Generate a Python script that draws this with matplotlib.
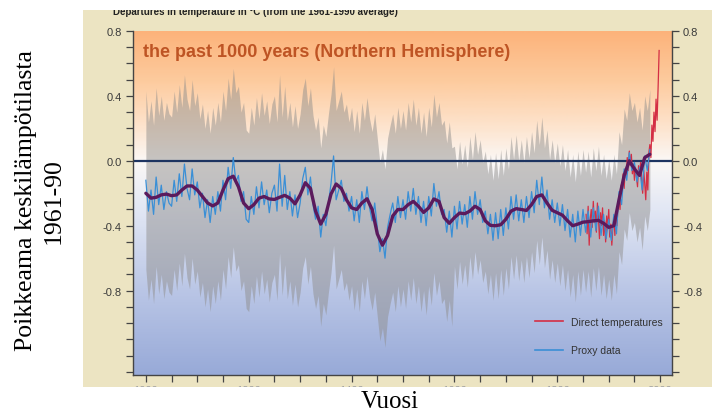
import numpy as np
import matplotlib
matplotlib.use("Agg")
import matplotlib.pyplot as plt
from matplotlib.colors import LinearSegmentedColormap
from matplotlib.patches import Rectangle
from matplotlib.lines import Line2D

# proxy data (5-year steps, 1000-1980), deg C vs 1961-90
proxy_years = np.arange(1000, 1981, 5)
proxy = [
    -0.12, -0.31, -0.18, -0.33, -0.10, -0.27, -0.15, -0.30, -0.19, -0.26,
    -0.28, -0.12, -0.25, -0.08, -0.22, -0.02, -0.17, -0.24, -0.05, -0.21,
    -0.13, -0.29, -0.20, -0.35, -0.24, -0.38, -0.22, -0.33, -0.19, -0.31,
    -0.12, -0.24, -0.04, -0.17, 0.02, -0.13, -0.09, -0.25, -0.19, -0.36,
    -0.38, -0.22, -0.33, -0.16, -0.29, -0.13, -0.27, -0.18, -0.32, -0.20,
    -0.15, -0.31, -0.02, -0.28, -0.09, -0.30, -0.19, -0.34, -0.21, -0.35,
    -0.26, -0.11, -0.04, -0.21, -0.10, -0.27, -0.36, -0.28, -0.47, -0.33,
    -0.40, -0.26, -0.14, 0.03, -0.24, -0.18, -0.12, -0.25, -0.20, -0.31,
    -0.22, -0.37, -0.24, -0.38, -0.19, -0.30, -0.16, -0.29, -0.37, -0.26,
    -0.41, -0.56, -0.48, -0.60, -0.41, -0.33, -0.26, -0.38, -0.22, -0.35,
    -0.24, -0.36, -0.19, -0.31, -0.17, -0.33, -0.22, -0.38, -0.25, -0.40,
    -0.22, -0.34, -0.14, -0.28, -0.19, -0.33, -0.30, -0.44, -0.31, -0.47,
    -0.28, -0.42, -0.25, -0.39, -0.27, -0.41, -0.22, -0.36, -0.19, -0.33,
    -0.24, -0.38, -0.31, -0.45, -0.33, -0.49, -0.32, -0.48, -0.30, -0.46,
    -0.29, -0.42, -0.22, -0.36, -0.21, -0.37, -0.24, -0.38, -0.22, -0.35,
    -0.19, -0.32, -0.12, -0.27, -0.10, -0.29, -0.18, -0.36, -0.24, -0.38,
    -0.26, -0.40, -0.27, -0.43, -0.30, -0.47, -0.33, -0.50, -0.31, -0.46,
    -0.30, -0.44, -0.31, -0.47, -0.29, -0.43, -0.28, -0.46, -0.33, -0.48,
    -0.36, -0.49, -0.33, -0.45, -0.19, -0.27, -0.05, -0.12, 0.05, -0.06,
    -0.01, -0.13, -0.04, -0.18, 0.03, -0.06, 0.07,
]

# smoothed proxy (10-year steps, 1000-1980)
smooth_years = np.arange(1000, 1981, 10)
smooth = [
    -0.20, -0.23, -0.225, -0.21, -0.205, -0.215, -0.21, -0.18, -0.155, -0.155,
    -0.18, -0.22, -0.26, -0.278, -0.26, -0.18, -0.11, -0.095, -0.16, -0.26,
    -0.295, -0.27, -0.23, -0.22, -0.235, -0.238, -0.225, -0.213, -0.23, -0.265,
    -0.21, -0.135, -0.17, -0.31, -0.39, -0.33, -0.205, -0.143, -0.17, -0.24,
    -0.29, -0.30, -0.26, -0.234, -0.30, -0.45, -0.52, -0.46, -0.34, -0.30,
    -0.30, -0.27, -0.25, -0.28, -0.318, -0.29, -0.235, -0.25, -0.35, -0.385,
    -0.35, -0.322, -0.326, -0.31, -0.28, -0.30, -0.37, -0.398, -0.40, -0.394,
    -0.36, -0.31, -0.295, -0.30, -0.306, -0.27, -0.22, -0.21, -0.26, -0.305,
    -0.32, -0.335, -0.37, -0.40, -0.39, -0.378, -0.375, -0.37, -0.367, -0.385,
    -0.41, -0.40, -0.24, -0.09, 0.0, -0.05, -0.09, 0.02, 0.04,
]

# instrumental record (2-year steps, 1856-1998)
direct_years = np.arange(1856, 1999, 2)
direct = [
    -0.33, -0.45, -0.28, -0.52, -0.36, -0.30, -0.41, -0.25, -0.38, -0.31,
    -0.44, -0.26, -0.35, -0.48, -0.32, -0.40, -0.29, -0.46, -0.37, -0.50,
    -0.34, -0.42, -0.30, -0.47, -0.39, -0.52, -0.41, -0.35, -0.46, -0.33,
    -0.40, -0.28, -0.22, -0.30, -0.15, -0.20, -0.08, -0.17, -0.05, -0.10,
    0.02, -0.06, 0.06, -0.03, 0.04, -0.08, -0.02, -0.12, -0.04, -0.10,
    -0.16, -0.03, -0.09, -0.01, -0.12, -0.20, -0.06, -0.14, -0.24, -0.07,
    -0.18, 0.05, 0.10, 0.02, 0.22, 0.12, 0.30, 0.18, 0.38, 0.25,
    0.45, 0.68,
]

# half width of the uncertainty band, by period start
band_start = [1000, 1600]
band_halfwidth = [0.55, 0.37]

YMIN, YMAX = -1.32, 0.8
XMIN, XMAX = 975, 2023

fig = plt.figure(figsize=(7.12, 4.14), dpi=100)
fig.patch.set_facecolor("white")

# beige panel behind the chart
fig.add_artist(Rectangle((0.1166, 0.0628), 0.8834, 0.9106, transform=fig.transFigure,
                         facecolor="#ece4c2", edgecolor="none", zorder=-2))

ax = fig.add_axes([0.1868, 0.0918, 0.757, 0.8309])
ax.set_xlim(XMIN, XMAX)
ax.set_ylim(YMIN, YMAX)

# orange -> white -> blue background
stops = [(-1.32, "#98aad8"), (-0.8, "#bac6e6"), (-0.3, "#e2e7f4"), (0.0, "#fbf8f6"),
         (0.2, "#fde5d0"), (0.5, "#fdcb9e"), (0.8, "#fcb37b")]
cmap = LinearSegmentedColormap.from_list(
    "bg", [((v - YMIN) / (YMAX - YMIN), c) for v, c in stops])
grad = np.linspace(0, 1, 300).reshape(-1, 1)
ax.imshow(grad, extent=[XMIN, XMAX, YMIN, YMAX], origin="lower", aspect="auto",
          cmap=cmap, vmin=0, vmax=1, zorder=0)

proxy_arr = np.array(proxy)
hw = np.array(band_halfwidth)[np.searchsorted(band_start, proxy_years, side="right") - 1]
ax.fill_between(proxy_years, proxy_arr - hw, proxy_arr + hw, color="#8e8c8a",
                alpha=0.48, lw=0, zorder=1)

ax.axhline(0, color="#1d3461", lw=1.6, zorder=2)
ax.plot(direct_years, direct, color="#d42e44", lw=0.9, zorder=3)
ax.plot(proxy_years, proxy, color="#3a8fd6", lw=0.9, zorder=4)
ax.plot(smooth_years, smooth, color="#5b1a5c", lw=2.4, zorder=5,
        solid_capstyle="round")

narrow = ["Liberation Sans Narrow", "Liberation Sans", "DejaVu Sans"]

ax.text(0.018, 0.94, "the past 1000 years (Northern Hemisphere)", transform=ax.transAxes,
        fontsize=13, fontweight="bold", color="#be5424", family=narrow,
        ha="left", va="center", zorder=6)

handles = [Line2D([], [], color="#d42e44", lw=1.2),
           Line2D([], [], color="#3a8fd6", lw=1.2)]
leg = ax.legend(handles, ["Direct temperatures", "Proxy data"], loc="lower right",
                bbox_to_anchor=(1.0, 0.03), frameon=False, handlelength=2.6,
                handletextpad=0.8, labelspacing=1.75,
                prop={"family": narrow, "size": 7.5})
for t in leg.get_texts():
    t.set_color("#333333")

ax.set_yticks([-0.8, -0.4, 0.0, 0.4, 0.8])
ax.set_yticklabels(["-0.8", "-0.4", "0.0", "0.4", "0.8"])
ax.set_yticks(np.arange(-1.3, 0.81, 0.1), minor=True)
ax.set_xticks([1000, 1200, 1400, 1600, 1800, 2000])
ax.set_xticks(np.arange(1000, 2001, 50), minor=True)
ax.tick_params(axis="y", which="both", direction="out", length=5, width=0.9,
               color="#444444", left=True, right=True, labelleft=True, labelright=True,
               labelsize=8, labelcolor="#3a3a3a", pad=3)
ax.tick_params(axis="x", which="both", direction="out", length=5, width=0.9,
               color="#444444", labelsize=8, labelcolor="#a0a0a0", pad=2)
for lbl in ax.get_yticklabels() + ax.get_xticklabels():
    lbl.set_family(narrow)
ax.spines["top"].set_visible(False)
for s in ("left", "right", "bottom"):
    ax.spines[s].set_color("#444444")
    ax.spines[s].set_linewidth(1.0)

# header of the original figure, cut off at the panel top
fig.text(0.159, 1 - 15 / 414, "Departures in temperature in \u00b0C (from the 1961-1990 average)",
         fontsize=7, fontweight="bold", color="#222222", family=narrow,
         ha="left", va="baseline", zorder=1)

# white margins that crop the panel
fig.add_artist(Rectangle((0, 0.9734), 1, 0.03, transform=fig.transFigure,
                         facecolor="white", edgecolor="none", zorder=10))
fig.add_artist(Rectangle((0, 0), 1, 0.0628, transform=fig.transFigure,
                         facecolor="white", edgecolor="none", zorder=10))

fig.text(0.056, 0.515, "Poikkeama keskilämpötilasta\n1961-90", rotation=90,
         ha="center", va="center", multialignment="center", fontsize=18.5,
         family="Liberation Serif", linespacing=1.3, zorder=11)
fig.text(0.548, 6 / 414, "Vuosi", ha="center", va="baseline", fontsize=18,
         family="Liberation Serif", zorder=11)

fig.savefig("out.png", dpi=100)
